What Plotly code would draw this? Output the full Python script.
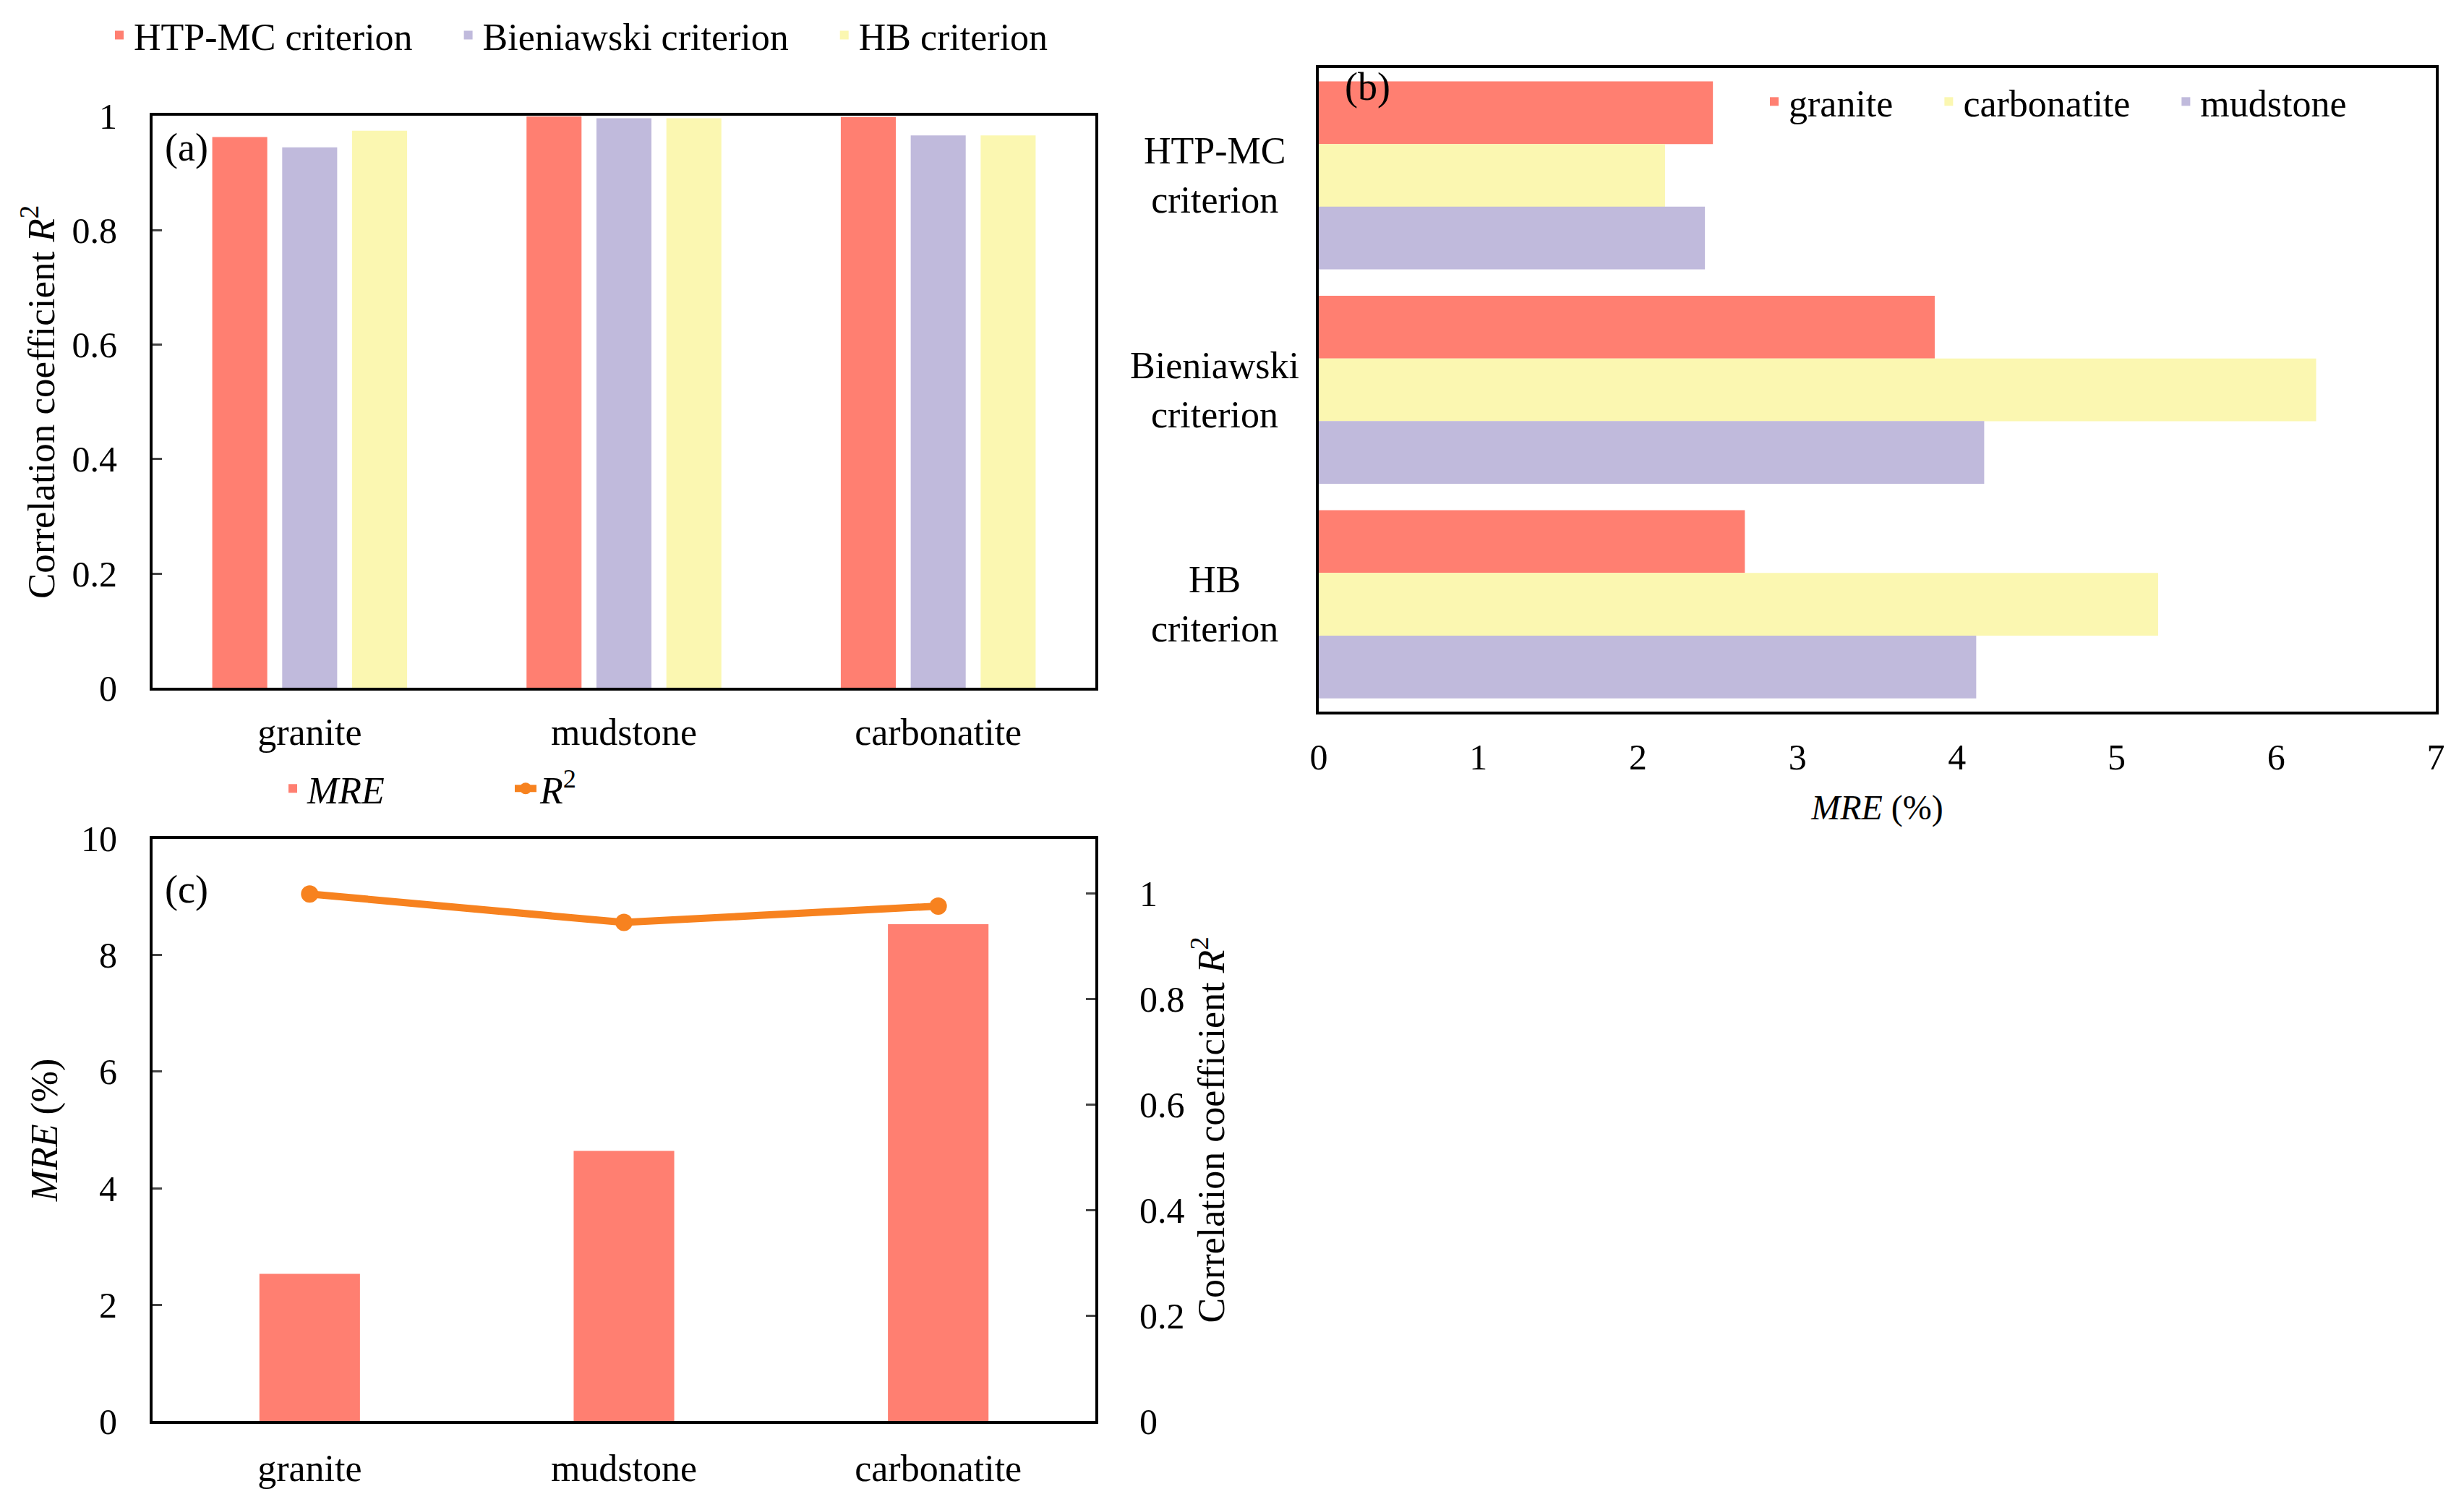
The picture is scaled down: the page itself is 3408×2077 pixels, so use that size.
import plotly.graph_objects as go

# panel (a): R2 of each criterion per rock
rocks = ["granite", "mudstone", "carbonatite"]
r2_htp = [0.963, 0.999, 0.998]
r2_bien = [0.945, 0.996, 0.966]
r2_hb = [0.974, 0.996, 0.966]

# panel (b): MRE (%) of each rock per criterion
criteria = ["HTP-MC<br>criterion", "Bieniawski<br>criterion", "HB<br>criterion"]
mre_granite = [2.47, 3.86, 2.67]
mre_carbonatite = [2.17, 6.25, 5.26]
mre_mudstone = [2.42, 4.17, 4.12]

# panel (c): HTP-MC criterion summary
mre_htp = [2.53, 4.64, 8.53]
r2_line = [0.999, 0.945, 0.976]

RED = "#FF7F71"
LAV = "#C0BADC"
YEL = "#FBF7B1"
ORANGE = "#F7821F"
FONT = "'Liberation Serif', 'Times New Roman', Times, serif"
W, H = 3392, 2061   # page body keeps a margin round the figure
PAD = "\u00a0" * 4  # gap after each legend entry


def px(x):
    return (x - 8) / W


def py(y):
    return 1 - (y - 13) / H


def tfont(size):
    return dict(family=FONT, size=size, color="black")


fig = go.Figure()

# (a)
for name, vals, col, off in [("HTP-MC criterion", r2_htp, RED, -0.31),
                             ("Bieniawski criterion", r2_bien, LAV, -0.0875),
                             ("HB criterion", r2_hb, YEL, 0.135)]:
    fig.add_trace(go.Bar(x=rocks, y=vals, name=name + PAD, marker_color=col, marker_line_width=0,
                         width=0.175, offset=off, xaxis="x", yaxis="y", legend="legend"))

# (b)
for name, vals, col, off in [("granite", mre_granite, RED, -0.4385),
                             ("carbonatite", mre_carbonatite, YEL, -0.146),
                             ("mudstone", mre_mudstone, LAV, 0.146)]:
    fig.add_trace(go.Bar(y=criteria, x=vals, name=name + PAD, orientation="h", marker_color=col,
                         marker_line_width=0, width=0.2923, offset=off,
                         xaxis="x2", yaxis="y2", legend="legend2"))

# (c)
fig.add_trace(go.Bar(x=rocks, y=mre_htp, name="<i>MRE</i>", marker_color=RED, marker_line_width=0,
                     width=0.32, xaxis="x3", yaxis="y3", legend="legend3"))
fig.add_trace(go.Scatter(x=rocks, y=r2_line, name="<i>R</i><sup>2</sup>", mode="lines+markers",
                         line=dict(color=ORANGE, width=10), marker=dict(color=ORANGE, size=24),
                         xaxis="x3", yaxis="y4", legend="legend3"))

ax = dict(showline=True, linecolor="black", linewidth=4, showgrid=False, zeroline=False,
          automargin=False, tickfont=tfont(50))
r2_title = "Correlation coefficient <i>R</i><sup>2</sup>"

# category labels of (b), centred like the original
labels_b = [dict(text=c, x=px(1680), y=c, xref="paper", yref="y2", xanchor="center",
                 yanchor="middle", align="center", showarrow=False, font=tfont(52))
            for c in criteria]

fig.update_layout(
    width=W, height=H,
    margin=dict(l=0, r=0, t=0, b=0),
    paper_bgcolor="white", plot_bgcolor="white",
    font=tfont(52),
    barmode="overlay",
    xaxis=dict(ax, domain=[px(211), px(1515)], anchor="y", mirror=True, ticks="",
               tickfont=tfont(52), ticklabelstandoff=12),
    yaxis=dict(ax, domain=[py(941), py(139)], anchor="x", range=[0, 1], dtick=0.2, mirror=True,
               ticks="inside", ticklen=13, tickwidth=3, ticklabelstandoff=35,
               title=dict(text=r2_title, standoff=8, font=tfont(53))),
    xaxis2=dict(ax, domain=[px(1824), px(3369)], anchor="y2", range=[0, 7], dtick=1, mirror=True,
                ticks="", ticklabelstandoff=16,
                title=dict(text="<i>MRE</i> (%)", standoff=26, font=tfont(48))),
    yaxis2=dict(ax, domain=[py(974), py(72)], anchor="x2", range=[2.5, -0.5], mirror=True,
                ticks="", showticklabels=False),
    xaxis3=dict(ax, domain=[px(211), px(1515)], anchor="y3", mirror=True, ticks="",
                tickfont=tfont(52), ticklabelstandoff=16),
    yaxis3=dict(ax, domain=[py(1969), py(1152)], anchor="x3", range=[0, 10], dtick=2,
                ticks="inside", ticklen=13, tickwidth=3, ticklabelstandoff=35,
                title=dict(text="<i>MRE</i> (%)", standoff=17, font=tfont(52))),
    yaxis4=dict(ax, overlaying="y3", side="right", anchor="x3", range=[0, 1.104],
                tickvals=[0, 0.2, 0.4, 0.6, 0.8, 1], ticks="inside", ticklen=13, tickwidth=3,
                ticklabelstandoff=47,
                title=dict(text=r2_title, standoff=20, font=tfont(52))),
    legend=dict(orientation="h", x=px(145), y=py(26), xanchor="left", yanchor="middle",
                bgcolor="rgba(0,0,0,0)", font=tfont(52)),
    legend2=dict(orientation="h", x=px(2434), y=py(119), xanchor="left", yanchor="middle",
                 bgcolor="rgba(0,0,0,0)", font=tfont(52)),
    legend3=dict(orientation="h", x=px(385), y=py(1082), xanchor="left", yanchor="middle",
                 entrywidth=277, bgcolor="rgba(0,0,0,0)", font=tfont(52)),
    annotations=labels_b + [
        dict(text="(a)", x=px(226), y=py(183), xref="paper", yref="paper", xanchor="left",
             yanchor="middle", showarrow=False, font=tfont(54)),
        dict(text="(b)", x=px(1858), y=py(98), xref="paper", yref="paper", xanchor="left",
             yanchor="middle", showarrow=False, font=tfont(54)),
        dict(text="(c)", x=px(226), y=py(1223), xref="paper", yref="paper", xanchor="left",
             yanchor="middle", showarrow=False, font=tfont(54)),
    ],
)

fig.write_html("out.html")
